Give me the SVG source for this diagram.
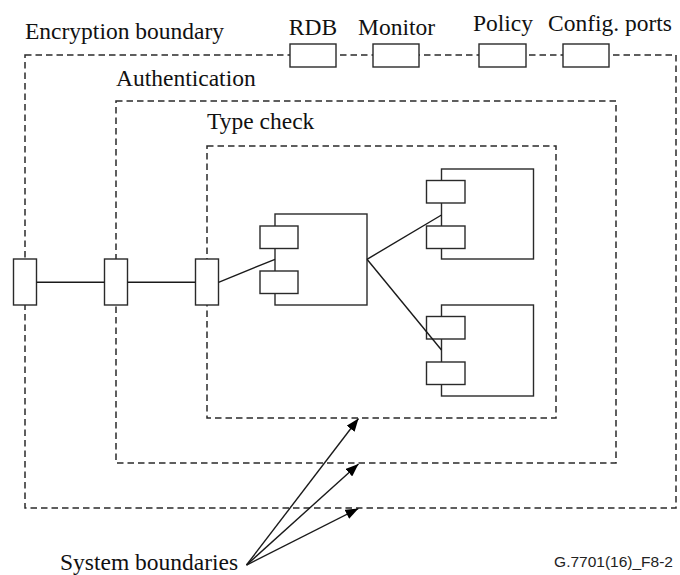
<svg xmlns="http://www.w3.org/2000/svg" width="680" height="575" viewBox="0 0 680 575">
<defs>
<style>
.bd{fill:none;stroke:#2a2a2a;stroke-width:1.5;stroke-dasharray:6.5 4}
.bx{fill:#fff;stroke:#2a2a2a;stroke-width:1.4}
.ln{fill:none;stroke:#1a1a1a;stroke-width:1.4}
.t{font-family:'Liberation Serif','Times New Roman',serif;font-size:23.5px;fill:#111}
.s{font-family:'Liberation Sans',Arial,sans-serif;font-size:15.5px;fill:#222}
</style>
<marker id="ah" viewBox="0 0 13 10" refX="13" refY="5" markerWidth="13" markerHeight="10" markerUnits="userSpaceOnUse" orient="auto">
<path d="M0,0 L13,5 L0,10 z" fill="#000"/>
</marker>
</defs>
<rect width="680" height="575" fill="#fff"/>

<g id="encryption-boundary">
<rect class="bd" x="25" y="55" width="651" height="453"/>
<text class="t" x="25" y="39">Encryption boundary</text>
</g>
<g id="authentication-boundary">
<rect class="bd" x="116" y="101" width="500" height="362"/>
<text class="t" x="116" y="86">Authentication</text>
</g>
<g id="typecheck-boundary">
<rect class="bd" x="207" y="146" width="349" height="272"/>
<text class="t" x="207" y="129">Type check</text>
</g>

<g id="port-rdb">
<rect class="bx" x="290" y="44" width="46" height="23"/>
<text class="t" x="313" y="35" text-anchor="middle">RDB</text>
</g>
<g id="port-monitor">
<rect class="bx" x="373" y="44" width="46" height="23"/>
<text class="t" x="396.5" y="35" text-anchor="middle">Monitor</text>
</g>
<g id="port-policy">
<rect class="bx" x="479" y="44" width="47" height="23"/>
<text class="t" x="503" y="31" text-anchor="middle">Policy</text>
</g>
<g id="port-config">
<rect class="bx" x="563" y="44" width="46" height="23"/>
<text class="t" x="610" y="31" text-anchor="middle">Config. ports</text>
</g>

<g id="gate-1"><rect class="bx" x="13.5" y="259" width="23" height="46"/></g>
<g id="gate-2"><rect class="bx" x="104.5" y="259" width="23" height="46"/></g>
<g id="gate-3"><rect class="bx" x="195.5" y="259" width="23" height="46"/></g>

<g id="component-1">
<rect class="bx" x="275" y="214" width="92" height="91"/>
<rect class="bx" x="260" y="226" width="38" height="22.5"/>
<rect class="bx" x="260" y="271" width="38" height="22.5"/>
</g>
<g id="component-2">
<rect class="bx" x="441.5" y="169" width="92" height="90"/>
<rect class="bx" x="426.5" y="180.5" width="38.5" height="22.5"/>
<rect class="bx" x="426.5" y="226" width="38.5" height="22.5"/>
</g>
<g id="component-3">
<rect class="bx" x="441.5" y="305" width="92" height="91"/>
<rect class="bx" x="426.5" y="316.5" width="38.5" height="22.5"/>
<rect class="bx" x="426.5" y="362" width="38.5" height="22.5"/>
</g>

<g id="label-system">
<text class="t" x="60" y="570">System boundaries</text>
</g>
<g id="figure-id">
<text class="s" x="673" y="567" text-anchor="end">G.7701(16)_F8-2</text>
</g>

<g id="connectors">
<line class="ln" x1="36.5" y1="282.3" x2="104.5" y2="282.3"/>
<line class="ln" x1="127.5" y1="282.3" x2="195.5" y2="282.3"/>
<line class="ln" x1="218.5" y1="282.3" x2="275" y2="259.3"/>
<line class="ln" x1="367" y1="259.3" x2="441.5" y2="215"/>
<line class="ln" x1="367" y1="259.3" x2="441.5" y2="350"/>
<line class="ln" x1="246.5" y1="565" x2="358.5" y2="418.5" marker-end="url(#ah)"/>
<line class="ln" x1="246.5" y1="565" x2="358.5" y2="464" marker-end="url(#ah)"/>
<line class="ln" x1="246.5" y1="565" x2="358.5" y2="508.5" marker-end="url(#ah)"/>
</g>
</svg>
